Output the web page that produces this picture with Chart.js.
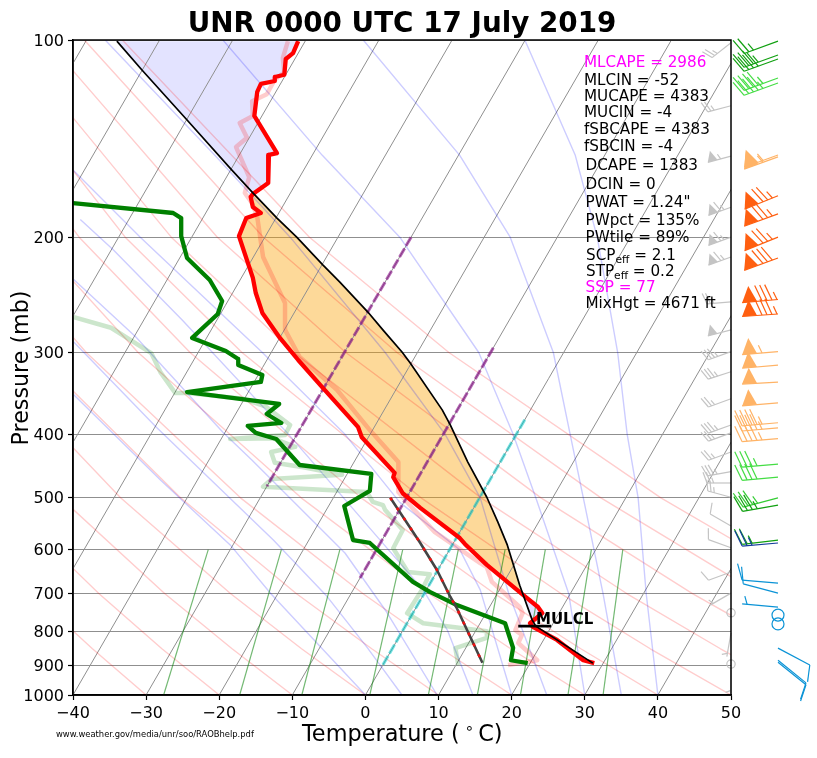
<!DOCTYPE html>
<html>
<head>
<meta charset="utf-8">
<title>UNR sounding</title>
<script src="https://cdn.jsdelivr.net/npm/chart.js@4"></script>
<style>
  html, body { margin: 0; padding: 0; background: #fff; }
  canvas { display: block; }
</style>
</head>
<body>
<canvas id="skewt" width="817" height="758"></canvas>
<script>
// axis
const tempTicks = [-40, -30, -20, -10, 0, 10, 20, 30, 40, 50];
const pressureTicks = [100, 200, 300, 400, 500, 600, 700, 800, 900, 1000];
const skewPerDecade = 51.85;

// profiles: pressure (mb) and the reading on the bottom temperature axis
const tempP = [100.4, 104.7, 106.9, 113, 113.9, 115.5, 116.7, 120, 130.6, 148.8, 149.8, 165.3, 171.9, 173.6, 179.9, 183.7, 187, 199.3, 230.8, 243.4, 261, 285, 308, 340, 390, 404, 458, 465, 492, 518, 576, 588, 633, 704, 734, 750, 777, 787, 824, 885, 894];
const tempX = [-9.2, -9.9, -10.9, -11.1, -12.4, -12.4, -14.3, -14.8, -15.2, -12.1, -13.2, -13.3, -15.4, -15.7, -15.4, -14.3, -16.3, -17.3, -15.4, -15, -14.1, -11.7, -9.2, -5.8, -1, -0.5, 4, 3.8, 5.1, 7.5, 12.9, 13.6, 16.6, 21.6, 23.6, 24.2, 22.5, 22.9, 26.2, 29.8, 31.3];
const dewP = [177.4, 183.7, 187, 199.3, 215.2, 232.5, 250.3, 262, 285, 298.4, 306.9, 313.4, 324.7, 332.7, 344.7, 359.5, 372.4, 384.3, 388.4, 398, 406.6, 445.5, 459.8, 488, 514.6, 580, 586, 672, 696, 729, 777, 847.6, 885, 894];
const dewX = [-40, -26.3, -25.2, -25.2, -24.4, -21.3, -19.6, -20.2, -23.7, -19.1, -17.4, -17.4, -14.1, -14.3, -24.4, -11.8, -13.5, -11.5, -16.1, -15, -12.2, -9, 0.8, 0.6, -2.9, -1.7, 0.6, 6.5, 8.8, 12.5, 19.1, 20.2, 19.9, 22.2];
const paleRedP = [100.4, 106.5, 112, 115, 121, 124, 130.6, 133.9, 141, 145.7, 161.9, 171.2, 177.4, 186.3, 214.4, 252, 277, 304.8, 342, 394, 441, 461, 490, 518, 564, 629, 638, 672, 734, 750, 796, 810, 833, 885, 900];
const paleRedX = [-10.6, -11.3, -11.1, -12.4, -13.5, -15.5, -15.4, -17.2, -16.2, -17.7, -15.9, -16.5, -15.5, -14.8, -14, -11, -11, -9, -3.9, 0.6, 4.5, 4.5, 4.5, 6.4, 9.5, 15.7, 16.6, 17.3, 21.1, 21.5, 20.5, 21.4, 20.9, 23.5, 19.5];
const paleGreenP = [264.8, 275, 300.6, 322, 346, 346, 353, 363, 387, 401, 406.6, 405.6, 418, 425.6, 442, 449, 461, 468, 481, 490, 507, 513, 522, 560, 597, 649, 654, 692, 750, 777, 799, 818, 848, 900];
const paleGreenX = [-40, -34.8, -29.3, -28, -26, -24.3, -16.7, -13.6, -10.3, -11, -18.5, -12.6, -9.6, -12.9, -12.4, -8.5, -3.2, -12.8, -14, 0.2, 1, 2.4, 2.7, 5.1, 3.8, 5.8, 8.8, 7.7, 5.7, 7.9, 16.6, 16.6, 12.3, 12.7];
const parcelP = [100.4, 111, 132.5, 157.9, 171.2, 187, 200, 220.6, 234.2, 260, 278, 299.5, 311, 367, 387, 441, 499, 544, 590, 680, 768, 785, 894];
const parcelX = [-34, -30.6, -24.4, -18.3, -15.4, -12.1, -9.4, -5.8, -3.5, 0.3, 2.5, 5, 6.1, 10.5, 11.6, 14, 16.6, 18.1, 19.4, 21.1, 22.8, 23.3, 31.1];
const downdraftP = [500, 586, 645, 708, 737, 893];
const downdraftX = [3.4, 7.5, 9.8, 11.6, 12.5, 16];
const lclP = [785, 785];
const lclX = [20.9, 25.4];

// freezing level and hail growth isotherms
const zeroLineT = 0, zeroLineP = [380, 905];
const tenLineT = -10, tenLineP = [295, 663];
const thirtyLineT = -30, thirtyLineP = [200, 480];

// background grid
const isotherms = [-130, -120, -110, -100, -90, -80, -70, -60, -50, -40, -30, -20, -10, 0, 10, 20, 30, 40, 50];
const isothermP = [100, 1000];
const dryP = [1000, 850, 700, 500, 300, 200, 100];
const dryLines = [
  [-30, -41, -53.6, -73.7, -100.7, -119.6, -147.2],
  [-20, -31.5, -44.5, -65.5, -93.6, -113.3, -142],
  [-10, -21.9, -35.5, -57.3, -86.6, -107, -136.9],
  [0, -12.4, -26.5, -49.1, -79.5, -100.7, -131.7],
  [10, -2.8, -17.5, -40.9, -72.4, -94.4, -126.5],
  [20, 6.7, -8.4, -32.7, -65.3, -88.1, -121.3],
  [30, 16.2, 0.6, -24.4, -58.2, -81.7, -116.2],
  [40, 25.8, 9.6, -16.2, -51.1, -75.4, -111],
  [50, 35.3, 18.7, -8, -44, -69.1, -105.8],
  [60, 44.9, 27.7, 0.2, -36.9, -62.8, -100.6],
  [70, 54.4, 36.7, 8.4, -29.8, -56.5, -95.5],
  [80, 64, 45.8, 16.6, -22.8, -50.2, -90.3],
  [90, 73.5, 54.8, 24.8, -15.7, -43.9, -85.1]
];
const moistP = [
  [1000, 700, 500, 400, 300, 200, 150, 100],
  [1000, 700, 500, 400, 300, 200, 150, 100],
  [1000, 700, 500, 400, 300, 200, 150, 100],
  [1000, 700, 500, 400, 300, 200, 150, 100],
  [1000, 691, 600, 508, 400, 300, 200, 158],
  [1000, 796, 691, 399, 268, 209, 188],
  [1000, 747, 607, 438, 397, 284, 232],
  [1000, 845, 704, 580, 390, 289],
  [1000, 701, 590, 470, 348]
];
const moistX = [
  [40, 38.4, 37.3, 35.8, 34.5, 31.7, 28.7, 21.8],
  [35, 32.5, 29.8, 28, 25.7, 19.8, 12.9, -0.3],
  [30, 27.8, 23.3, 20.2, 15.5, 4.7, -5.9, -19.5],
  [24.8, 19.6, 15.7, 10.9, 2.7, -10.3, -20.6, -35.6],
  [20, 15.7, 12.9, 4.7, -2.8, -14.1, -30.8, -40],
  [14.7, 11.2, 7.9, -10.6, -25, -34.5, -39],
  [9.8, 2.9, -2.8, -15.5, -19.5, -31.4, -39.9],
  [5, 0.2, -5.4, -12.6, -28.6, -39.9],
  [0, -12.9, -18.5, -28, -39.9]
];
const mixingP = [1000, 600];
const mixingBottomX = [-27.6, -17.2, -8.7, 0.6, 8.6, 15.3, 21.2, 27.7, 32.5];
const mixingTopX = [-21.5, -11.5, -3.5, 5.1, 12.7, 19.1, 24.6, 30.9, 35.2];

// winds: pressure, direction (deg), speed (kt)
const windP = [100.4, 105.4, 106.9, 114.3, 116.3, 149.8, 150.8, 172.9, 184.3, 200, 215.2, 249, 262, 299, 313.6, 333, 358, 384, 391, 406, 444, 465, 500, 513, 580, 586, 675, 699, 734, 755, 779, 848, 885, 891];
const windDir = [250, 250, 250, 250, 250, 250, 250, 248, 250, 248, 250, 265, 266, 265, 265, 267, 265, 265, 265, 265, 265, 265, 255, 260, 263, 265, 275, 285, 275, 0, 0, 118, 129, 129];
const windSpd = [25, 35, 40, 45, 45, 55, 55, 75, 75, 75, 80, 85, 85, 55, 50, 50, 50, 45, 45, 45, 35, 40, 35, 35, 25, 25, 10, 10, 5, 0, 0, 10, 10, 10];
const windColors = ["#10a010", "#10a010", "#10a010", "#44dd44", "#44dd44", "#ffb366", "#ffb366", "#ff5f10", "#ff5f10", "#ff5f10", "#ff5f10", "#ff5f10", "#ff5f10", "#ffb366", "#ffb366", "#ffb366", "#ffb366", "#ffb366", "#ffb366", "#ffb366", "#44dd44", "#44dd44", "#33cc33", "#10a010", "#10a010", "#123c9c", "#0a93d6", "#0a93d6", "#0a93d6", "#0a93d6", "#0a93d6", "#0a93d6", "#0a93d6", "#0a93d6"];
const grayWindP = [101, 126, 150.4, 180, 200, 214.4, 251, 277, 299, 321, 353, 387, 398, 425.6, 456, 474.6, 499, 552, 596, 649, 699, 749, 804, 897, 915];
const grayWindDir = [232, 255, 255, 250, 250, 250, 265, 255, 250, 252, 250, 250, 250, 250, 260, 270, 285, 300, 290, 250, 240, 0, 190, 0, 180];
const grayWindSpd = [25, 25, 55, 65, 65, 65, 25, 50, 35, 35, 25, 35, 25, 25, 35, 25, 25, 10, 10, 10, 5, 0, 5, 0, 5];

// index text, "|" marks the subscript part
const statLabels = ["MLCAPE = 2986", "MLCIN = -52", "MUCAPE = 4383", "MUCIN = -4", "fSBCAPE = 4383", "fSBCIN = -4", "DCAPE = 1383", "DCIN = 0", "PWAT = 1.24\"", "PWpct = 135%", "PWtile = 89%", "SCP|eff| = 2.1", "STP|eff| = 0.2", "SSP = 77", "MixHgt = 4671 ft"];
const statColors = ["#ff00ff", "#000", "#000", "#000", "#000", "#000", "#000", "#000", "#000", "#000", "#000", "#000", "#000", "#ff00ff", "#000"];
const statX = [584, 584, 584, 584, 584, 584, 585.5, 585.5, 585.5, 585.5, 585.5, 586, 586, 585.5, 585.5];
const statY = [67, 85, 101, 117, 134, 151, 170, 189, 207, 225, 242, 260, 276, 292, 308];

const FONT = '"DejaVu Sans"';
const skew = (t, p) => t + skewPerDecade * Math.log10(1000 / p);
const pairs = (xs, ps) => xs.map((x, i) => ({ x: x, y: ps[i] }));

function lineSet(points, color, width, extra) {
  return Object.assign({
    data: points,
    showLine: true,
    borderColor: color,
    borderWidth: width,
    pointRadius: 0,
    fill: false,
    tension: 0,
    borderJoinStyle: "round"
  }, extra || {});
}

const tempLine = pairs(tempX, tempP);
const parcelLine = pairs(parcelX, parcelP);

// CAPE and CIN shading, closed shapes between the parcel and temperature lines
const capeShape = parcelLine.filter(d => d.y >= 171 && d.y <= 704)
  .concat(tempLine.filter(d => d.y >= 172 && d.y <= 704).reverse());
const upperCinShape = parcelLine.filter(d => d.y <= 172)
  .concat(tempLine.filter(d => d.y <= 172).reverse());
const lowerCinShape = tempLine.filter(d => d.y >= 704 && d.y <= 787)
  .concat(parcelLine.filter(d => d.y >= 768 && d.y <= 785).reverse());

const datasets = [];
function shapeSet(points, color) {
  datasets.push(lineSet(points, "rgba(0,0,0,0)", 0, { fill: "shape", backgroundColor: color }));
}
shapeSet(upperCinShape, "rgba(0,0,255,0.11)");
shapeSet(lowerCinShape, "rgba(0,0,255,0.11)");
shapeSet(capeShape, "rgba(250,160,0,0.4)");

isotherms.forEach(t => {
  datasets.push(lineSet(isothermP.map(p => ({ x: skew(t, p), y: p })), "#8f8f8f", 1));
});
dryLines.forEach(row => {
  datasets.push(lineSet(row.map((t, i) => ({ x: skew(t, dryP[i]), y: dryP[i] })), "rgba(255,0,0,0.2)", 1.4));
});
moistX.forEach((row, k) => {
  datasets.push(lineSet(pairs(row, moistP[k]), "rgba(0,0,255,0.2)", 1.4));
});
mixingBottomX.forEach((x, i) => {
  datasets.push(lineSet(pairs([x, mixingTopX[i]], mixingP), "rgba(0,128,0,0.55)", 1.2));
});

datasets.push(lineSet(pairs(paleGreenX, paleGreenP), "rgba(0,128,0,0.2)", 4.5));
datasets.push(lineSet(pairs(paleRedX, paleRedP), "rgba(255,0,0,0.2)", 4.5));
datasets.push(lineSet(thirtyLineP.map(p => ({ x: skew(thirtyLineT, p), y: p })), "rgba(128,0,128,0.6)", 3, { borderDash: [10, 3] }));
datasets.push(lineSet(tenLineP.map(p => ({ x: skew(tenLineT, p), y: p })), "rgba(128,0,128,0.6)", 3, { borderDash: [10, 3] }));
datasets.push(lineSet(zeroLineP.map(p => ({ x: skew(zeroLineT, p), y: p })), "rgba(0,200,200,0.55)", 3, { borderDash: [10, 3] }));
datasets.push(lineSet(pairs(dewX, dewP), "#008000", 4.3));
datasets.push(lineSet(tempLine, "#ff0000", 4.3));
datasets.push(lineSet(parcelLine, "#000", 1.7));
datasets.push(lineSet(pairs(downdraftX, downdraftP), "#444", 2.6));
datasets.push(lineSet(pairs(downdraftX, downdraftP), "#ee1111", 2.6, { borderDash: [3, 9] }));
datasets.push(lineSet(pairs(lclX, lclP), "#000", 2.6));
datasets.forEach((d, i) => { d.order = -i; });

function drawBarb(ctx, x, y, dir, spd, length, color) {
  const s = length / 36;
  ctx.strokeStyle = color;
  ctx.fillStyle = color;
  ctx.lineWidth = 1.2;
  if (spd === 0) {
    ctx.beginPath();
    ctx.arc(x, y, 5.5 * s + 0.5, 0, Math.PI * 2);
    ctx.stroke();
    return;
  }
  const rad = dir * Math.PI / 180;
  const ux = Math.sin(rad), uy = -Math.cos(rad);
  const vx = -uy, vy = ux;
  const hx = x + length * ux, hy = y + length * uy;
  ctx.beginPath();
  ctx.moveTo(x, y);
  ctx.lineTo(hx, hy);
  ctx.stroke();

  const flags = Math.floor(spd / 50);
  const full = Math.floor((spd % 50) / 10);
  const half = spd % 10 >= 5 ? 1 : 0;
  const h = 16 * s, w = 15 * s, gap = 5 * s, tilt = 6 * s;
  let pos = 0;
  for (let i = 0; i < flags; i++) {
    const ax = hx - pos * ux, ay = hy - pos * uy;
    const bx = hx - (pos + w) * ux, by = hy - (pos + w) * uy;
    ctx.beginPath();
    ctx.moveTo(ax, ay);
    ctx.lineTo((ax + bx) / 2 + h * vx, (ay + by) / 2 + h * vy);
    ctx.lineTo(bx, by);
    ctx.closePath();
    ctx.fill();
    pos += w + gap;
  }
  if (flags === 0 && full === 0) pos += gap;
  for (let i = 0; i < full + half; i++) {
    const f = i < full ? 1 : 0.5;
    const bx = hx - pos * ux, by = hy - pos * uy;
    ctx.beginPath();
    ctx.moveTo(bx, by);
    ctx.lineTo(bx + f * (h * vx + tilt * ux), by + f * (h * vy + tilt * uy));
    ctx.stroke();
    pos += gap;
  }
}

// spines, wind barbs and all free text
const overlay = {
  id: "overlay",
  afterDatasetsDraw(chart) {
    const ctx = chart.ctx;
    const area = chart.chartArea;
    const yScale = chart.scales.y;

    ctx.save();
    grayWindP.forEach((p, i) => {
      drawBarb(ctx, area.right, yScale.getPixelForValue(p), grayWindDir[i], grayWindSpd[i], 24, "#c4c4c4");
    });
    windP.forEach((p, i) => {
      drawBarb(ctx, 778, yScale.getPixelForValue(p), windDir[i], windSpd[i], 36, windColors[i]);
    });

    ctx.strokeStyle = "#000";
    ctx.lineWidth = 1.5;
    ctx.strokeRect(area.left, area.top, area.right - area.left, area.bottom - area.top);

    ctx.textBaseline = "alphabetic";
    ctx.textAlign = "left";
    statLabels.forEach((label, i) => {
      const parts = label.split("|");
      let x = statX[i];
      ctx.fillStyle = statColors[i];
      parts.forEach((part, k) => {
        const sub = k === 1;
        ctx.font = (sub ? "10.7px " : "15.2px ") + FONT;
        ctx.fillText(part, x, statY[i] + (sub ? 3 : 0));
        x += ctx.measureText(part).width;
      });
    });

    ctx.fillStyle = "#000";
    ctx.font = "bold 15px " + FONT;
    ctx.fillText("MULCL", 536, 624);

    ctx.font = "8.4px " + FONT;
    ctx.fillText("www.weather.gov/media/unr/soo/RAOBhelp.pdf", 56, 737);

    ctx.font = "22.4px " + FONT;
    ctx.fillText("Temperature ( ", 302, 741);
    let tx = 302 + ctx.measureText("Temperature ( ").width - 2;
    ctx.font = "15px " + FONT;
    ctx.fillText("\u2218", tx, 733);
    tx += ctx.measureText("\u2218").width + 4;
    ctx.font = "22.4px " + FONT;
    ctx.fillText("C)", tx, 741);

    ctx.font = "22.2px " + FONT;
    ctx.save();
    ctx.translate(28, 368);
    ctx.rotate(-Math.PI / 2);
    ctx.textAlign = "center";
    ctx.fillText("Pressure (mb)", 0, 0);
    ctx.restore();

    ctx.textAlign = "center";
    ctx.font = "bold 27.8px " + FONT;
    ctx.fillText("UNR 0000 UTC 17 July 2019", 402, 32);
    ctx.restore();
  }
};

new Chart(document.getElementById("skewt").getContext("2d"), {
  type: "scatter",
  data: { datasets: datasets },
  plugins: [overlay],
  options: {
    responsive: false,
    animation: false,
    layout: { padding: { top: 40, right: 86, left: 0, bottom: 0 } },
    plugins: {
      legend: { display: false },
      tooltip: { enabled: false },
      title: { display: false },
      filler: { propagate: false }
    },
    scales: {
      x: {
        type: "linear",
        min: -40,
        max: 50,
        afterFit(scale) { scale.height = 63; },
        afterBuildTicks(scale) { scale.ticks = tempTicks.map(v => ({ value: v })); },
        grid: { drawOnChartArea: false, tickLength: 5, tickColor: "#000", tickWidth: 1.2 },
        border: { color: "#000", width: 1.5 },
        ticks: {
          autoSkip: false,
          maxRotation: 0,
          padding: 4,
          color: "#000",
          font: { family: FONT, size: 16 },
          callback: v => String(v).replace("-", "\u2212")
        }
      },
      y: {
        type: "logarithmic",
        reverse: true,
        min: 100,
        max: 1000,
        afterFit(scale) { scale.width = 73; },
        afterBuildTicks(scale) { scale.ticks = pressureTicks.map(v => ({ value: v })); },
        grid: { color: "#8f8f8f", lineWidth: 1, tickLength: 5, tickColor: "#000", tickWidth: 1.2 },
        border: { color: "#000", width: 1.5 },
        ticks: {
          autoSkip: false,
          padding: 4,
          labelOffset: 1.5,
          color: "#000",
          font: { family: FONT, size: 16 },
          callback: v => String(v)
        }
      }
    }
  }
});
</script>
</body>
</html>
